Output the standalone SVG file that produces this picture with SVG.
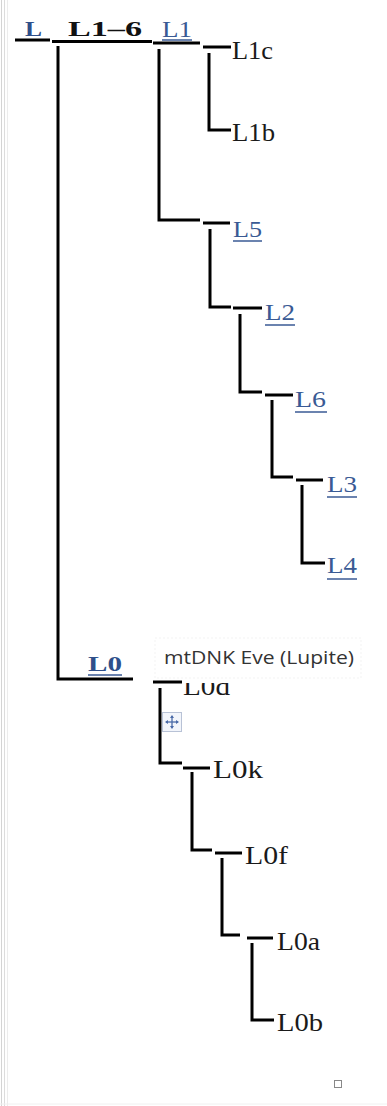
<svg xmlns="http://www.w3.org/2000/svg" width="387" height="1106" viewBox="0 0 387 1106">
<style>
.ln{stroke:#000;stroke-width:3;fill:none;stroke-linecap:butt}
.t{font-family:"Liberation Serif","Times New Roman",serif;font-size:26px;fill:#1a1a1a}
.lk{font-family:"Liberation Serif","Times New Roman",serif;font-size:23px;fill:#3a5a94}
.lb{font-family:"Liberation Serif","Times New Roman",serif;font-size:22px;font-weight:bold;fill:#2f4f8a}
.bk{font-family:"Liberation Serif","Times New Roman",serif;font-size:22px;font-weight:bold;fill:#111}
.ul{stroke:#3a5a94;stroke-width:1.5}
.note{font-family:"Open Sans","DejaVu Sans",sans-serif;font-size:18px;fill:#333}
</style>
<defs>
<clipPath id="clipL0d"><rect x="150" y="683" width="100" height="20"/></clipPath>
</defs>
<rect width="387" height="1106" fill="#fff"/>
<g id="frame">
<line x1="1.5" y1="0" x2="1.5" y2="1106" stroke="#d4d4d4" stroke-width="1"/>
<line x1="4.5" y1="0" x2="4.5" y2="1106" stroke="#dcdcdc" stroke-width="1"/>
<line x1="7.5" y1="0" x2="7.5" y2="1106" stroke="#ececec" stroke-width="1"/>
<line x1="0" y1="1104" x2="387" y2="1104" stroke="#f0f0f0" stroke-width="1"/>
</g>
<g id="connectors">
<path class="ln" d="M58,46 V679 H133"/>
<path class="ln" d="M159,49 V220 H200"/>
<path class="ln" d="M209,53 V130 H231"/>
<path class="ln" d="M210,229 V307 H231"/>
<path class="ln" d="M240,314 V392 H262"/>
<path class="ln" d="M272,400 V477 H293"/>
<path class="ln" d="M302,485 V563 H325"/>
<path class="ln" d="M160,688 V763 H182"/>
<path class="ln" d="M192,772 V850 H212"/>
<path class="ln" d="M222,858 V935 H240"/>
<path class="ln" d="M252,943 V1020 H274"/>
</g>
<g id="node-L">
<line class="ln" x1="15" y1="40" x2="50" y2="40"/>
<text class="lb" x="25" y="36" textLength="17" lengthAdjust="spacingAndGlyphs">L</text>
</g>
<g id="node-L1-6">
<line class="ln" x1="52" y1="41.5" x2="152" y2="41.5"/>
<text class="bk" x="68" y="36" textLength="74" lengthAdjust="spacingAndGlyphs">L1–6</text>
</g>
<g id="node-L1">
<line class="ln" x1="153" y1="43" x2="200" y2="43"/>
<text class="lk" x="162" y="37" textLength="30" lengthAdjust="spacingAndGlyphs">L1</text>
<line class="ul" x1="162" y1="40" x2="192" y2="40"/>
<line class="ln" x1="203" y1="47" x2="231" y2="47"/>
</g>
<g id="node-L1c">
<text class="t" x="232" y="59" textLength="41" lengthAdjust="spacingAndGlyphs">L1c</text>
</g>
<g id="node-L1b">
<text class="t" x="232" y="141" textLength="43" lengthAdjust="spacingAndGlyphs">L1b</text>
</g>
<g id="node-L5">
<line class="ln" x1="203" y1="223" x2="230" y2="223"/>
<text class="lk" x="233" y="237" textLength="29" lengthAdjust="spacingAndGlyphs">L5</text>
<line class="ul" x1="233" y1="241" x2="262" y2="241"/>
</g>
<g id="node-L2">
<line class="ln" x1="233" y1="308" x2="262" y2="308"/>
<text class="lk" x="265" y="320" textLength="30" lengthAdjust="spacingAndGlyphs">L2</text>
<line class="ul" x1="265" y1="325" x2="295" y2="325"/>
</g>
<g id="node-L6">
<line class="ln" x1="265" y1="395" x2="293" y2="395"/>
<text class="lk" x="295" y="407" textLength="31" lengthAdjust="spacingAndGlyphs">L6</text>
<line class="ul" x1="295" y1="412" x2="327" y2="412"/>
</g>
<g id="node-L3">
<line class="ln" x1="296" y1="480" x2="323" y2="480"/>
<text class="lk" x="327" y="492" textLength="30" lengthAdjust="spacingAndGlyphs">L3</text>
<line class="ul" x1="327" y1="497" x2="357" y2="497"/>
</g>
<g id="node-L4">
<text class="lk" x="327" y="573" textLength="30" lengthAdjust="spacingAndGlyphs">L4</text>
<line class="ul" x1="327" y1="579" x2="357" y2="579"/>
</g>
<g id="node-L0">
<text class="lb" x="88" y="671" textLength="34" lengthAdjust="spacingAndGlyphs">L0</text>
<line class="ul" x1="88" y1="675" x2="122" y2="675"/>
<line class="ln" x1="153" y1="682" x2="182" y2="682"/>
</g>
<g id="note-eve">
<rect x="155" y="638" width="206" height="40" fill="none" stroke="#f3f3f3" stroke-width="1" stroke-dasharray="2 2"/>
<text class="note" x="164" y="664" textLength="190" lengthAdjust="spacingAndGlyphs">mtDNK Eve (Lupite)</text>
</g>
<g id="node-L0d">
<text class="t" x="183" y="695" clip-path="url(#clipL0d)" textLength="47" lengthAdjust="spacingAndGlyphs">L0d</text>
</g>
<g id="move-icon">
<rect x="162.5" y="712.5" width="19" height="19" fill="#f2f5fb" stroke="#b8c2d6" stroke-width="1"/>
<line x1="172" y1="716" x2="172" y2="728" stroke="#4a6aa8" stroke-width="1.3"/>
<line x1="166" y1="722" x2="178" y2="722" stroke="#4a6aa8" stroke-width="1.3"/>
<polygon points="172,715 170,718 174,718" fill="#4a6aa8"/>
<polygon points="172,729 170,726 174,726" fill="#4a6aa8"/>
<polygon points="165,722 168,720 168,724" fill="#4a6aa8"/>
<polygon points="179,722 176,720 176,724" fill="#4a6aa8"/>
</g>
<g id="node-L0k">
<line class="ln" x1="183" y1="768" x2="210" y2="768"/>
<text class="t" x="213" y="778" textLength="50" lengthAdjust="spacingAndGlyphs">L0k</text>
</g>
<g id="node-L0f">
<line class="ln" x1="215" y1="853" x2="242" y2="853"/>
<text class="t" x="245" y="864" textLength="43" lengthAdjust="spacingAndGlyphs">L0f</text>
</g>
<g id="node-L0a">
<line class="ln" x1="247" y1="938" x2="273" y2="938"/>
<text class="t" x="277" y="950" textLength="43" lengthAdjust="spacingAndGlyphs">L0a</text>
</g>
<g id="node-L0b">
<text class="t" x="277" y="1031" textLength="46" lengthAdjust="spacingAndGlyphs">L0b</text>
</g>
<rect x="334.5" y="1080.5" width="7" height="7" fill="none" stroke="#888" stroke-width="1"/>
</svg>
